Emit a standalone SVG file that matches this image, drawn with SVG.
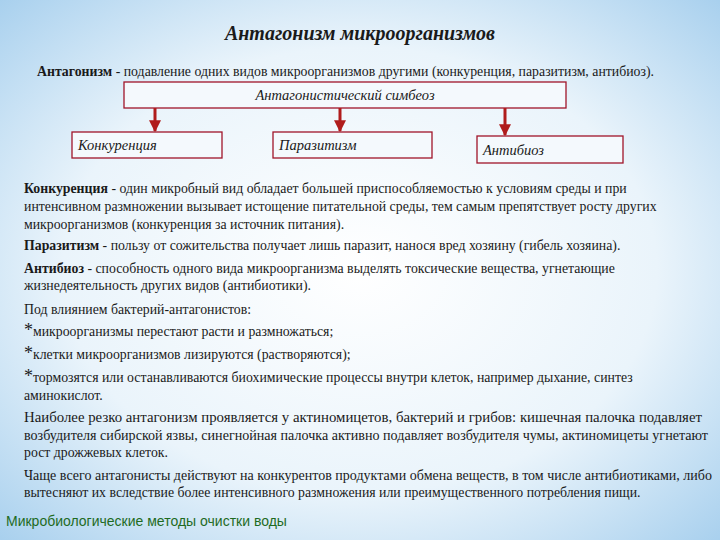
<svg xmlns="http://www.w3.org/2000/svg" width="720" height="540" viewBox="0 0 720 540" font-family="'Liberation Serif', 'DejaVu Serif', serif">
<defs>
<radialGradient id="bg" cx="50%" cy="50%" r="75%">
<stop offset="0" stop-color="#ffffff"/><stop offset="0.55" stop-color="#eaf4fb"/><stop offset="1" stop-color="#9fcbec"/>
</radialGradient>
<marker id="ah" viewBox="0 0 10 10" refX="9" refY="5" markerWidth="4" markerHeight="4" orient="auto"><path d="M0,0L10,5L0,10z" fill="#b01c1c"/></marker>
<style>
text{font-size:13.8px;fill:#1a1a1a}
.b{font-weight:bold}
.i{font-style:italic;font-size:14.5px}
.box{fill:#f4f9fd;stroke:#a0142a;stroke-width:1.3}
.c{stroke:#b01c1c;stroke-width:3;marker-end:url(#ah)}
.ast{font-size:18px}
</style>
</defs>
<rect width="720" height="540" fill="url(#bg)"/>
<text x="360" y="40" text-anchor="middle" style="font-size:20px;font-weight:bold;font-style:italic">Антагонизм микроорганизмов</text>
<text x="37" y="76"><tspan class="b">Антагонизм</tspan> - подавление одних видов микроорганизмов другими (конкуренция, паразитизм, антибиоз).</text>
<g id="n0"><rect class="box" x="124" y="82" width="442" height="26"/><text class="i" x="345" y="100" text-anchor="middle">Антагонистический симбеоз</text></g>
<g id="n1"><rect class="box" x="72" y="132" width="150" height="26"/><text class="i" x="78" y="150">Конкуренция</text></g>
<g id="n2"><rect class="box" x="273" y="132" width="159" height="26"/><text class="i" x="279" y="150">Паразитизм</text></g>
<g id="n3"><rect class="box" x="477" y="136" width="146" height="27"/><text class="i" x="483" y="155">Антибиоз</text></g>
<g id="conn">
<line class="c" x1="155" y1="108" x2="155" y2="131"/>
<line class="c" x1="340" y1="108" x2="340" y2="131"/>
<line class="c" x1="505" y1="108" x2="505" y2="135"/>
</g>
<text x="24" y="193"><tspan class="b">Конкуренция</tspan> - один микробный вид обладает большей приспособляемостью к условиям среды и при</text>
<text x="24" y="211">интенсивном размножении вызывает истощение питательной среды, тем самым препятствует росту других</text>
<text x="24" y="229">микроорганизмов (конкуренция за источник питания).</text>
<text x="24" y="250"><tspan class="b">Паразитизм</tspan> - пользу от сожительства получает лишь паразит, нанося вред хозяину (гибель хозяина).</text>
<text x="24" y="273"><tspan class="b">Антибиоз</tspan> - способность одного вида микроорганизма выделять токсические вещества, угнетающие</text>
<text x="24" y="290">жизнедеятельность других видов (антибиотики).</text>
<text x="24" y="314">Под влиянием бактерий-антагонистов:</text>
<text x="24" y="336"><tspan class="ast">*</tspan>микроорганизмы перестают расти и размножаться;</text>
<text x="24" y="359"><tspan class="ast">*</tspan>клетки микроорганизмов лизируются (растворяются);</text>
<text x="24" y="382"><tspan class="ast">*</tspan>тормозятся или останавливаются биохимические процессы внутри клеток, например дыхание, синтез</text>
<text x="24" y="400">аминокислот.</text>
<text x="24" y="422" textLength="678" lengthAdjust="spacingAndGlyphs">Наиболее резко антагонизм проявляется у актиномицетов, бактерий и грибов: кишечная палочка подавляет</text>
<text x="24" y="440" textLength="684" lengthAdjust="spacingAndGlyphs">возбудителя сибирской язвы, синегнойная палочка активно подавляет возбудителя чумы, актиномицеты угнетают</text>
<text x="24" y="457">рост дрожжевых клеток.</text>
<text x="24" y="480" textLength="688" lengthAdjust="spacingAndGlyphs">Чаще всего антагонисты действуют на конкурентов продуктами обмена веществ, в том числе антибиотиками, либо</text>
<text x="24" y="497">вытесняют их вследствие более интенсивного размножения или преимущественного потребления пищи.</text>
<text x="6" y="526" font-family="'Liberation Sans', sans-serif" style="font-size:14px;fill:#1f6b1f">Микробиологические методы очистки воды</text>
</svg>
